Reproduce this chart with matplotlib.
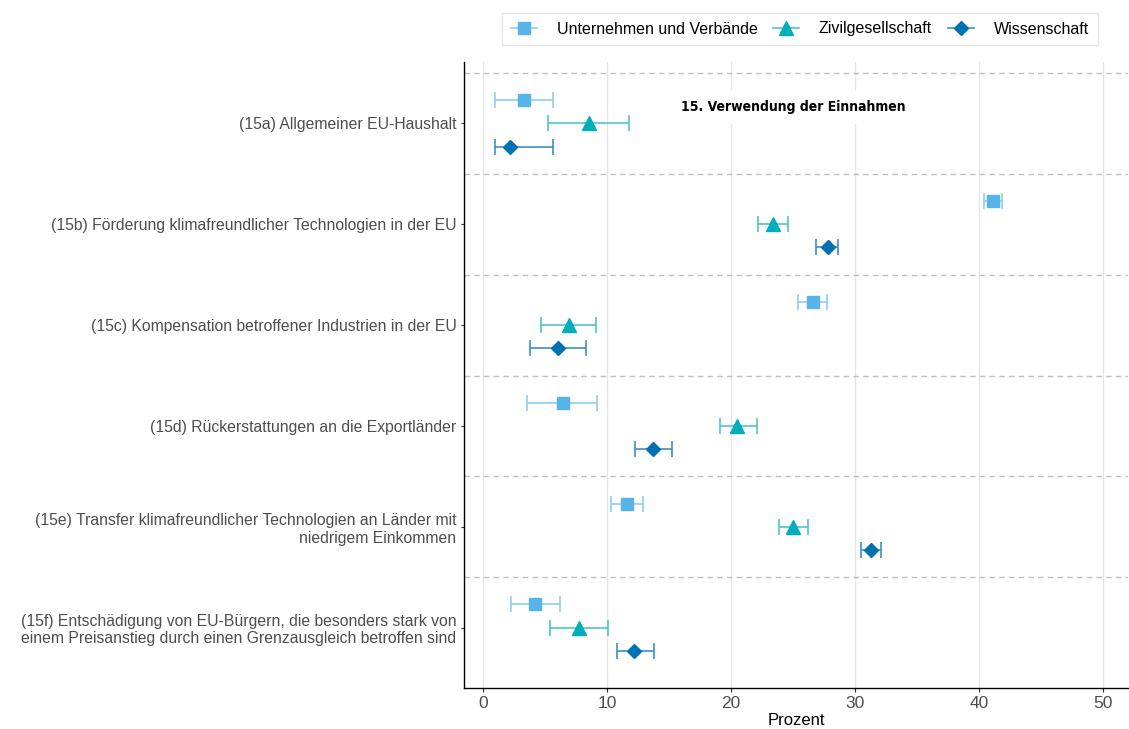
import matplotlib
matplotlib.use("Agg")
import matplotlib.pyplot as plt
from matplotlib.lines import Line2D
import numpy as np

plt.rcParams['font.family'] = ['Liberation Sans', 'DejaVu Sans']

categories = [
    "(15a) Allgemeiner EU-Haushalt",
    "(15b) Förderung klimafreundlicher Technologien in der EU",
    "(15c) Kompensation betroffener Industrien in der EU",
    "(15d) Rückerstattungen an die Exportländer",
    "(15e) Transfer klimafreundlicher Technologien an Länder mit\nniedrigem Einkommen",
    "(15f) Entschädigung von EU-Bürgern, die besonders stark von\neinem Preisanstieg durch einen Grenzausgleich betroffen sind",
]
series = ["Unternehmen und Verbände", "Zivilgesellschaft", "Wissenschaft"]

unt_val = [3.3, 41.1, 26.6, 6.4, 11.6, 4.2]
unt_lo = [0.95, 40.4, 25.4, 3.5, 10.3, 2.25]
unt_hi = [5.6, 41.8, 27.7, 9.2, 12.9, 6.2]

ziv_val = [8.5, 23.4, 6.9, 20.5, 25.0, 7.75]
ziv_lo = [5.2, 22.2, 4.7, 19.1, 23.85, 5.35]
ziv_hi = [11.75, 24.6, 9.1, 22.1, 26.2, 10.1]

wis_val = [2.2, 27.8, 6.0, 13.7, 31.3, 12.2]
wis_lo = [0.95, 26.85, 3.8, 12.25, 30.5, 10.75]
wis_hi = [5.6, 28.6, 8.3, 15.25, 32.1, 13.75]

title_text = "15. Verwendung der Einnahmen"
xticks = [0, 10, 20, 30, 40, 50]

colors = ["#56B4E9", "#00AFBB", "#0072B2"]
err_colors = ["#8fcdf0", "#4cc6cd", "#3d8fc6"]
markers = ["s", "^", "D"]
msizes = [9, 10, 7.5]
offsets = [-0.23, 0.0, 0.23]

fig = plt.figure(figsize=(11.29, 7.29), dpi=100)
ax = fig.add_axes([464/1129, 41/729, 1 - 464/1129 - 1/1129, (688-62)/729])

ypos = np.arange(len(categories))
data = [(unt_val, unt_lo, unt_hi), (ziv_val, ziv_lo, ziv_hi), (wis_val, wis_lo, wis_hi)]

for k, (v, lo, hi) in enumerate(data):
    v = np.array(v); lo = np.array(lo); hi = np.array(hi)
    yy = ypos + offsets[k]
    ax.errorbar(v, yy, xerr=[v - lo, hi - v], fmt='none', ecolor=err_colors[k],
                elinewidth=1.2, capsize=6, capthick=1.2, zorder=3)
    ax.plot(v, yy, linestyle='none', marker=markers[k], markersize=msizes[k],
            color=colors[k], markeredgecolor=colors[k], zorder=4)

# separators between categories (not below the last one)
for b in np.arange(-0.5, len(categories) - 1, 1.0):
    ax.axhline(b, color="#c0c0c0", linestyle=(0, (4, 3)), linewidth=1.0, zorder=1)

ax.set_xlim(-1.55, 52)
ax.set_ylim(5.6, -0.61)
ax.set_xticks(xticks)
ax.xaxis.grid(True, color="#e6e6e6", linewidth=1.0, zorder=0)
ax.set_axisbelow(True)
ax.set_yticks(ypos)
ax.set_yticklabels(categories, fontsize=11.3, color="#4d4d4d", multialignment='right')
ax.tick_params(axis='x', labelsize=12.5, labelcolor="#4d4d4d", length=3, color="#333333", pad=3)
ax.tick_params(axis='y', length=2.5, color="#333333", pad=3)
ax.set_xlabel("Prozent", fontsize=12, color="black", labelpad=1)
for s in ["top", "right"]:
    ax.spines[s].set_visible(False)
for s in ["left", "bottom"]:
    ax.spines[s].set_color("black")
    ax.spines[s].set_linewidth(1.0)

ax.text(25, -0.16, title_text, fontsize=10, fontweight='bold', fontstretch='condensed',
        family=['DejaVu Sans'],
        ha='center', va='center', zorder=5,
        bbox=dict(facecolor='white', edgecolor='none', pad=7))

handles = [Line2D([0], [0], color=err_colors[k], marker=markers[k], markersize=msizes[k],
                  markerfacecolor=colors[k], markeredgecolor=colors[k], linewidth=1.2)
           for k in range(3)]
leg = fig.legend(handles, series, loc='center', bbox_to_anchor=(800/1129, 1 - 29/729),
                 ncol=3, frameon=True, fancybox=False, fontsize=11.5,
                 handlelength=1.6, columnspacing=1.0, handletextpad=1.25,
                 borderpad=0.55)
leg.get_frame().set_edgecolor("#e0e0e0")
leg.get_frame().set_linewidth(1.0)

fig.savefig("out.png", dpi=100)
